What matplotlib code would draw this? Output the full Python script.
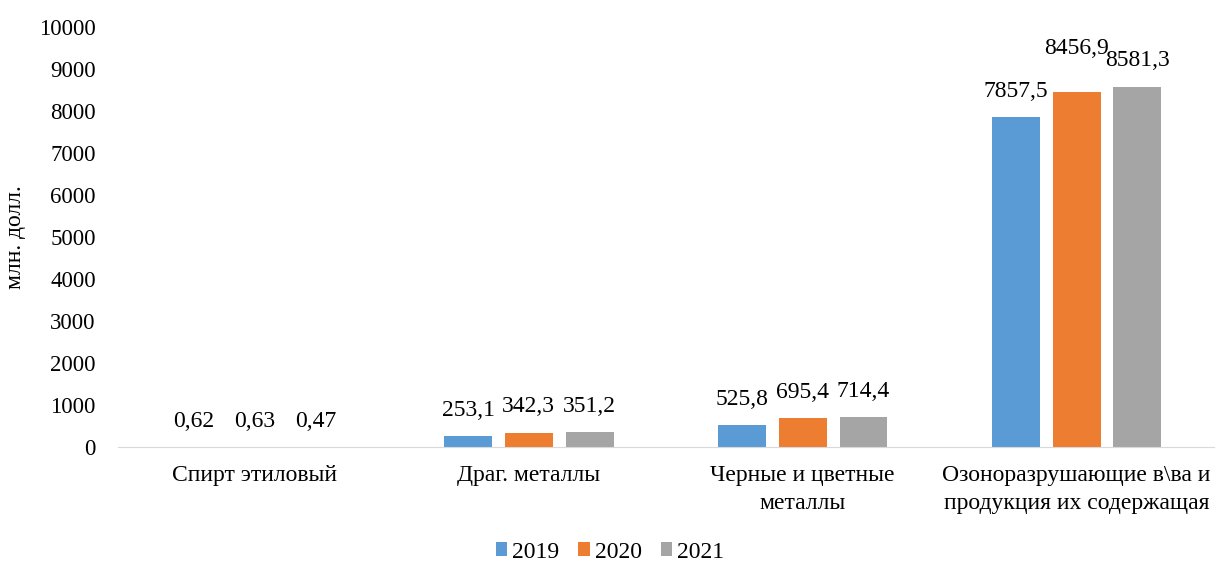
import numpy as np
import matplotlib.pyplot as plt

# --- data ---
CATEGORIES = ['Спирт этиловый', 'Драг. металлы', 'Черные и цветные\nметаллы',
              'Озоноразрушающие в\\ва и\nпродукция их содержащая']
YEARS = ['2019', '2020', '2021']
V2019 = [0.62, 253.1, 525.8, 7857.5]
V2020 = [0.63, 342.3, 695.4, 8456.9]
V2021 = [0.47, 351.2, 714.4, 8581.3]
LABELS_2019 = ['0,62', '253,1', '525,8', '7857,5']
LABELS_2020 = ['0,63', '342,3', '695,4', '8456,9']
LABELS_2021 = ['0,47', '351,2', '714,4', '8581,3']

COLORS = ['#5B9BD5', '#ED7D31', '#A5A5A5']

plt.rcParams['font.family'] = ['Liberation Serif', 'DejaVu Serif']

fig = plt.figure(figsize=(12.16, 5.63), dpi=100)
ax = fig.add_axes([0.097, 0.206, 0.901, 0.746])

x = np.arange(len(CATEGORIES))
step = 0.222
width = 0.175
series = [V2019, V2020, V2021]
labels = [LABELS_2019, LABELS_2020, LABELS_2021]
for i, (vals, labs) in enumerate(zip(series, labels)):
    pos = x + (i - 1) * step
    ax.bar(pos, vals, width=width, color=COLORS[i], label=YEARS[i], zorder=2)
    for p, v, t in zip(pos, vals, labs):
        off = 11
        # Excel nudged the middle label of the last group up
        if i == 1 and v > 8000:
            off = 24
        ax.annotate(t, (p, v), xytext=(0, off), textcoords='offset points',
                    ha='center', va='bottom', fontsize=17)

ax.set_xlim(-0.5, len(CATEGORIES) - 0.5)
ax.set_ylim(0, 10000)
ax.set_yticks(np.arange(0, 10001, 1000))
ax.set_xticks(x)
ax.set_xticklabels(CATEGORIES, fontsize=17, linespacing=1.45)
ax.tick_params(axis='y', labelsize=16.5, length=0, pad=16)
ax.tick_params(axis='x', length=0, pad=13)
for s in ['top', 'right', 'left']:
    ax.spines[s].set_visible(False)
ax.spines['bottom'].set_color('#D9D9D9')
ax.set_ylabel('млн. долл.', fontsize=17, labelpad=9)

ax.legend(loc='center', bbox_to_anchor=(0.449, -0.25), ncol=3, frameon=False,
          fontsize=17, handlelength=0.5, handleheight=0.5, handletextpad=0.2,
          columnspacing=0.8)

fig.savefig('out.png', dpi=100)
